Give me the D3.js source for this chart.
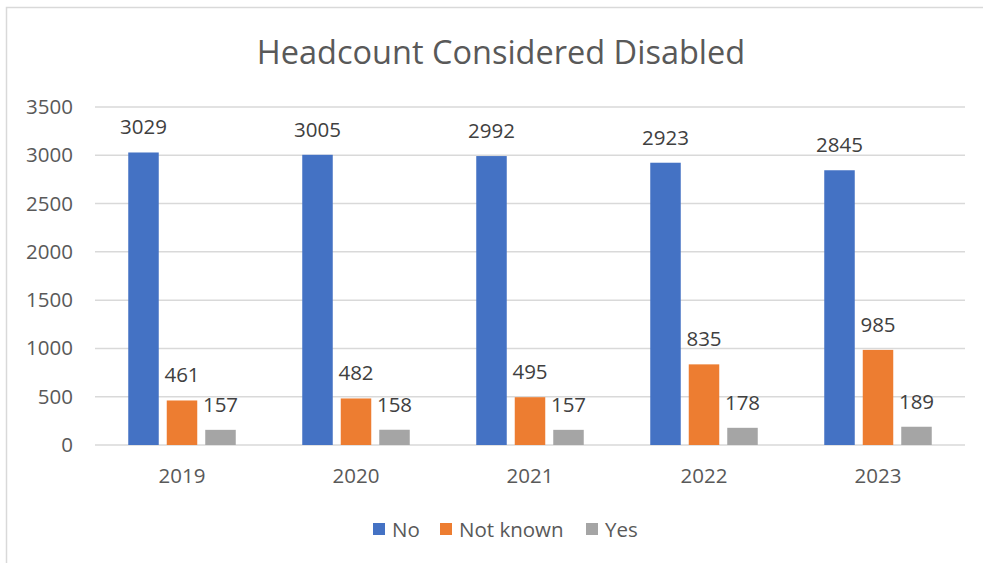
<!DOCTYPE html>
<html>
<head>
<meta charset="utf-8">
<script src="https://cdn.jsdelivr.net/npm/d3@7/dist/d3.min.js"></script>
<style>
  html, body { margin: 0; padding: 0; background: #fff; }
  svg { display: block; }
  text { font-family: "Open Sans", "Liberation Sans", sans-serif; }
</style>
</head>
<body>
<svg id="chart" width="983" height="563"></svg>
<script>
const title = "Headcount Considered Disabled";
const years = ["2019", "2020", "2021", "2022", "2023"];
const seriesNames = ["No", "Not known", "Yes"];
const seriesColors = ["#4472C4", "#ED7D31", "#A5A5A5"];
const noValues = [3029, 3005, 2992, 2923, 2845];
const notKnownValues = [461, 482, 495, 835, 985];
const yesValues = [157, 158, 157, 178, 189];
const yTicks = [0, 500, 1000, 1500, 2000, 2500, 3000, 3500];

const seriesValues = [noValues, notKnownValues, yesValues];

const svg = d3.select("#chart");
const W = 983, H = 563;

// chart border
svg.append("rect")
  .attr("x", 6.5).attr("y", 7.5)
  .attr("width", W + 10).attr("height", H + 10)
  .attr("fill", "none").attr("stroke", "#d9d9d9").attr("stroke-width", 1.5);

const plot = { left: 95, right: 965, top: 107, bottom: 445 };

const x = d3.scaleBand().domain(years).range([plot.left, plot.right]).paddingInner(0).paddingOuter(0);
const y = d3.scaleLinear().domain([0, 3500]).range([plot.bottom, plot.top]);

// gridlines
svg.append("g").selectAll("line").data(yTicks).join("line")
  .attr("x1", plot.left).attr("x2", plot.right)
  .attr("y1", d => y(d)).attr("y2", d => y(d))
  .attr("stroke", "#d9d9d9").attr("stroke-width", 1.5);

// y axis labels
const yAxis = d3.axisLeft(y).tickValues(yTicks).tickSize(0).tickPadding(0).tickFormat(d3.format("d"));
const gy = svg.append("g").attr("transform", `translate(73,0)`).call(yAxis);
gy.select(".domain").remove();
gy.selectAll("text").attr("fill", "#595959").style("font-size", "20.5px")
  .style("font-family", "'Open Sans', sans-serif");

// x axis labels
const xAxis = d3.axisBottom(x).tickSize(0).tickPadding(0);
const gx = svg.append("g").attr("transform", `translate(0,468)`).call(xAxis);
gx.select(".domain").remove();
gx.selectAll("text").attr("fill", "#595959").style("font-size", "20.5px")
  .style("font-family", "'Open Sans', sans-serif");

// bars
const barW = 30.5, gap = 8;
const sub = d3.scaleBand().domain(seriesNames)
  .range([0, barW * 3 + gap * 2]).paddingInner(gap / (barW + gap)).paddingOuter(0);
const groupOffset = (x.bandwidth() - (barW * 3 + gap * 2)) / 2;

seriesNames.forEach((name, si) => {
  const g = svg.append("g");
  const vals = seriesValues[si];
  g.selectAll("rect").data(years).join("rect")
    .attr("x", (d) => x(d) + groupOffset + sub(name))
    .attr("width", sub.bandwidth())
    .attr("y", (d, i) => y(vals[i]))
    .attr("height", (d, i) => y(0) - y(vals[i]))
    .attr("fill", seriesColors[si]);
  g.selectAll("text").data(years).join("text")
    .attr("x", (d) => x(d) + groupOffset + sub(name) + sub.bandwidth() / 2)
    .attr("y", (d, i) => y(vals[i]) - 18)
    .attr("text-anchor", "middle")
    .attr("fill", "#404040")
    .style("font-size", "20.5px")
    .text((d, i) => vals[i]);
});

// title
svg.append("text")
  .attr("x", 501).attr("y", 64)
  .attr("text-anchor", "middle")
  .attr("fill", "#595959")
  .style("font-size", "32.5px")
  .text(title);

// legend
const legendItems = [
  { name: "No", sx: 373 },
  { name: "Not known", sx: 440 },
  { name: "Yes", sx: 586 }
];
const lg = svg.append("g");
legendItems.forEach((it, i) => {
  lg.append("rect").attr("x", it.sx).attr("y", 523).attr("width", 12).attr("height", 12)
    .attr("fill", seriesColors[i]);
  lg.append("text").attr("x", it.sx + 19).attr("y", 536.5)
    .attr("fill", "#595959").style("font-size", "20.5px").text(seriesNames[i]);
});
</script>
</body>
</html>
